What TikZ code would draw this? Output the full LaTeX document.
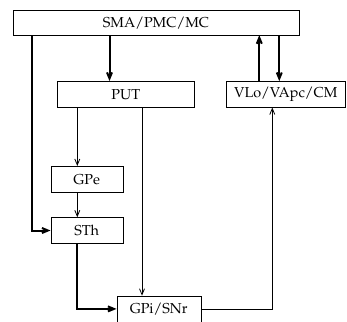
\documentclass[tikz,border=0pt]{standalone}
\usepackage[T1]{fontenc}
\usepackage{mathpazo}
\usetikzlibrary{arrows.meta,positioning}

\begin{document}
\begin{tikzpicture}[x=1pt,y=-1pt,
every node/.style={draw,rectangle,inner sep=0pt,minimum height=26pt,
  font=\fontsize{14.4}{17}\selectfont},
>={Straight Barb[length=6pt,width=5pt]},
heavy/.style={line width=2pt,->},
light/.style={line width=0.8pt,->}]
\useasboundingbox (0,0) rectangle (347,321);
\node[minimum width=286.6pt,minimum height=24.3pt] (SMA) at (156,22.8) {SMA/PMC/MC};
\node[minimum width=137pt] (PUT) at (125.8,94.2) {PUT};
\node[minimum width=118.3pt] (VLo) at (285.8,94.3) {VLo/VApc/CM};
\node[minimum width=72pt] (GPe) at (86.7,179.2) {GPe};
\node[minimum width=72pt] (STh) at (86.7,230.5) {STh};
\node[minimum width=84pt] (GPi) at (158.7,308.9) {GPi/SNr};
% cortex loop
\draw[heavy] ([xshift=-16.3pt]PUT.north |- SMA.south) -- ([xshift=-16.3pt]PUT.north);
\draw[heavy] ([xshift=-124pt]SMA.south) |- (STh.west);
\draw[heavy] ([xshift=-26.5pt]VLo.north) -- ([xshift=-26.5pt]VLo.north |- SMA.south);
\draw[heavy] ([xshift=-6.5pt]VLo.north |- SMA.south) -- ([xshift=-6.5pt]VLo.north);
% basal ganglia
\draw[light] ([xshift=-9.4pt]GPe.north |- PUT.south) -- ([xshift=-9.4pt]GPe.north);
\draw[light] ([xshift=-9.4pt]GPe.south) -- ([xshift=-9.4pt]STh.north);
\draw[light] ([xshift=-16.7pt]GPi.north |- PUT.south) -- ([xshift=-16.7pt]GPi.north);
\draw[heavy] ([xshift=-10pt]STh.south) |- (GPi.west);
\draw[light] (GPi.east) -| ([xshift=-13.5pt]VLo.south);
\end{tikzpicture}
\end{document}
